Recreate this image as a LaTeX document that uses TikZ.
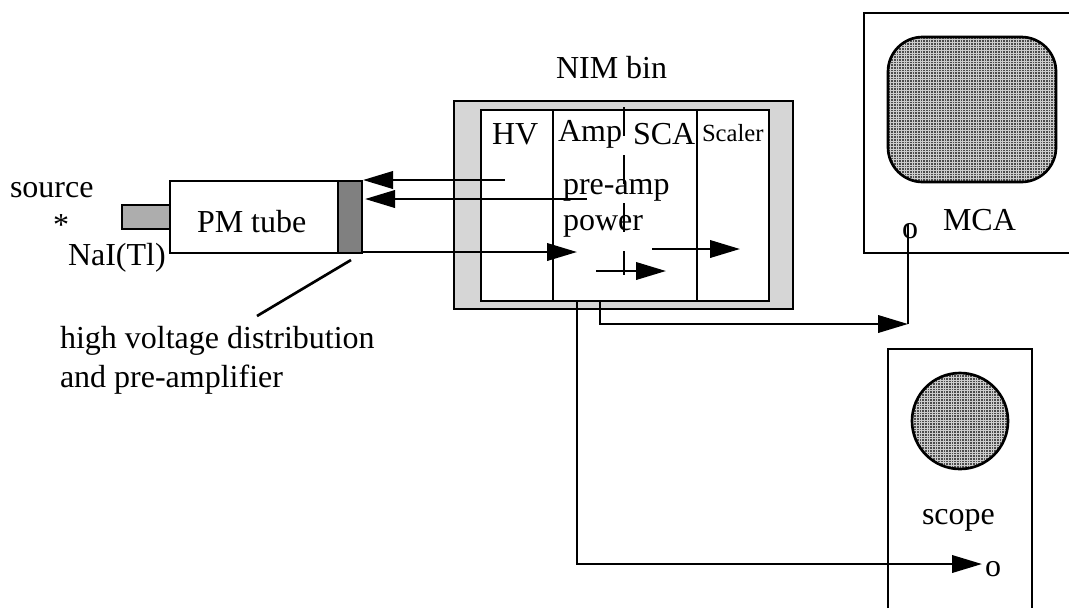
\documentclass[tikz,border=0pt]{standalone}
\usepackage{fontspec}
\setmainfont{Liberation Serif}
\usetikzlibrary{arrows.meta}
\definecolor{binfill}{gray}{0.84}
\definecolor{screenbase}{gray}{0.30}
\definecolor{screenline}{gray}{0.80}
\definecolor{capfill}{gray}{0.50}
\definecolor{xtal}{gray}{0.68}
\newcommand{\meshgrid}[4]{%
  \fill[screenbase] (#1,#3) rectangle (#2,#4);%
  \pgfmathsetmacro{\mxb}{#1+2.67}\pgfmathsetmacro{\myb}{#3+2.67}%
  \foreach \mx in {#1,\mxb,...,#2} {\draw[screenline,line width=0.25pt] (\mx,#3) -- (\mx,#4);}%
  \foreach \my in {#3,\myb,...,#4} {\draw[screenline,line width=0.25pt] (#1,\my) -- (#2,\my);}%
}
\tikzset{
  wire/.style={line width=2pt},
  arr/.style={wire,-{Triangle[length=22.5pt,width=13pt]}},
  box/.style={draw=black,line width=2pt,inner sep=0pt,outer sep=0pt},
  lab/.style={anchor=base west,inner sep=0pt,outer sep=0pt,font=\fontsize{24}{24}\selectfont},
  smalllab/.style={lab,font=\fontsize{18.5}{18.5}\selectfont},
}
\begin{document}
\begin{tikzpicture}[x=0.75pt,y=-0.75pt]
\useasboundingbox (0,0) rectangle (1069,608);
\fill[white] (0,0) rectangle (1069,608);
% tube assembly
\node[box,fill=xtal,minimum width=36pt,minimum height=18pt] (xt) at (146,217) {};
\node[box,fill=white,minimum width=126pt,minimum height=54pt] (pm) at (254,217) {};
\node[box,fill=capfill,minimum width=18pt,minimum height=54pt] (cap) at (350,217) {};
\node[lab] (tubelab) at (197,232) {PM tube};
\node[lab] (srclab) at (10,197) {source};
\node[lab] (star) at (53,235) {*};
\node[lab] (nailab) at (68,265) {NaI(Tl)};
\node[lab] (hv1) at (60,348) {high voltage distribution};
\node[lab] (hv2) at (60,387) {and pre-amplifier};
\coordinate (leadA) at (351,260);
\coordinate (leadB) at (257,316);
\draw[wire] (leadA) -- (leadB);
% NIM bin
\node[box,fill=binfill,minimum width=254.25pt,minimum height=156pt] (bin) at (623.5,205) {};
\node[box,fill=white,minimum width=216pt,minimum height=143.25pt] (crate) at (625,205.5) {};
\coordinate (d1t) at (553,110); \coordinate (d1b) at (553,301);
\coordinate (d2t) at (697,110); \coordinate (d2b) at (697,301);
\draw[wire] (d1t) -- (d1b);
\draw[wire] (d2t) -- (d2b);
\coordinate (d3t) at (624,107); \coordinate (d3b) at (624,275);
\draw[wire,dash pattern=on 22pt off 14pt] (d3t) -- (d3b);
\node[lab] (nimlab) at (556,78) {NIM bin};
\node[lab] (hvlab) at (492,144) {HV};
\node[lab] (amplab) at (558,141) {Amp};
\node[lab] (scalab) at (633,144) {SCA};
\node[smalllab] (sclab) at (702,141) {Scaler};
\node[lab] (prelab) at (563,194) {pre-amp};
\node[lab] (powlab) at (563,230) {power};
% MCA
\coordinate (m1) at (1069,13); \coordinate (m2) at (864,13);
\coordinate (m3) at (864,253); \coordinate (m4) at (1069,253);
\draw[wire] (m1) -- (m2) -- (m3) -- (m4);
\begin{scope}
  \clip[rounded corners=26pt] (888,37) rectangle (1056,182);
  \meshgrid{885}{1060}{34}{186}
\end{scope}
\node[box,rounded corners=26pt,minimum width=126pt,minimum height=108.75pt] (mcascreen) at (972,109.5) {};
\node[lab] (mcalab) at (943,230) {MCA};
\node[lab] (mcao) at (902,238) {o};
% scope
\coordinate (s1) at (888,608); \coordinate (s2) at (888,349);
\coordinate (s3) at (1032,349); \coordinate (s4) at (1032,608);
\draw[wire] (s1) -- (s2) -- (s3) -- (s4);
\begin{scope}
  \clip (960,421) circle (36pt);
  \meshgrid{908}{1012}{369}{473}
\end{scope}
\node[box,circle,minimum size=72pt] (scopescreen) at (960,421) {};
\node[lab] (scopelab) at (922,524) {scope};
\node[lab] (scopeo) at (985,576) {o};
% connectors
\coordinate (a1s) at (505,180); \coordinate (a1e) at (363,180);
\coordinate (a2s) at (587,199); \coordinate (a2e) at (365,199);
\coordinate (a3s) at (362,252); \coordinate (a3e) at (577,252);
\coordinate (a4s) at (596,271); \coordinate (a4e) at (666,271);
\coordinate (a5s) at (652,249); \coordinate (a5e) at (740,249);
\draw[arr] (a1s) -- (a1e);
\draw[arr] (a2s) -- (a2e);
\draw[arr] (a3s) -- (a3e);
\draw[arr] (a4s) -- (a4e);
\draw[arr] (a5s) -- (a5e);
\coordinate (b1) at (600,301); \coordinate (b2) at (600,324); \coordinate (b3) at (908,324);
\coordinate (b4) at (908,224);
\draw[arr] (b1) -- (b2) -- (b3);
\draw[wire] (b3) -- (b4);
\coordinate (c1) at (577,301); \coordinate (c2) at (577,564); \coordinate (c3) at (982,564);
\draw[arr] (c1) -- (c2) -- (c3);
\end{tikzpicture}
\end{document}
